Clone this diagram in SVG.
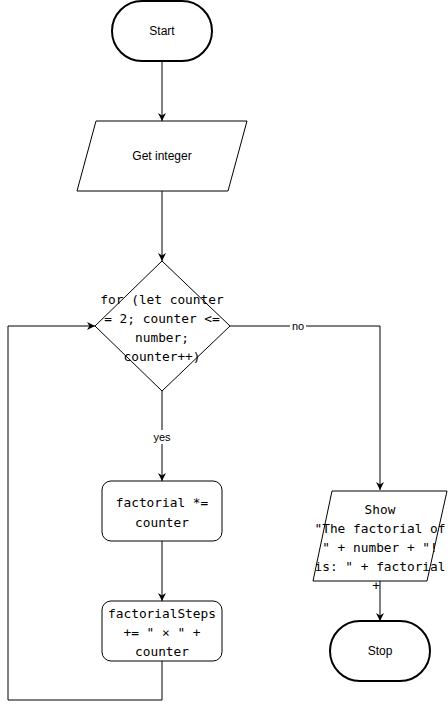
<svg xmlns="http://www.w3.org/2000/svg" width="448" height="710" viewBox="0 0 448 710">
<style>
.term{fill:#fff;stroke:#000;stroke-width:2}
.shape{fill:#fff;stroke:#000;stroke-width:1}
.sans{font-family:"Liberation Sans",Arial,sans-serif;font-size:12px;fill:#000;text-anchor:middle;dominant-baseline:central}
.mono{font-family:"DejaVu Sans Mono","Liberation Mono",monospace;font-size:12.8px;fill:#000;text-anchor:middle;dominant-baseline:central}
.edge{fill:none;stroke:#000;stroke-width:1}
.lbl{font-family:"Liberation Sans",Arial,sans-serif;font-size:11px;fill:#000;text-anchor:middle;dominant-baseline:central}
</style>
<defs>
<marker id="arr" viewBox="0 0 10 10" refX="10" refY="5" markerWidth="8" markerHeight="8" markerUnits="userSpaceOnUse" orient="auto">
<path d="M0,0 L10,5 L0,10 L3,5 Z" fill="#000"/>
</marker>
</defs>
<rect width="448" height="710" fill="#fff"/>
<g id="connectors">
<path class="edge" d="M162,61 V121" marker-end="url(#arr)"/>
<path class="edge" d="M162,191 V261" marker-end="url(#arr)"/>
<path class="edge" d="M230,326 H380 V490" marker-end="url(#arr)"/>
<rect x="290" y="319" width="16" height="14" fill="#fff"/>
<text class="lbl" x="298" y="326">no</text>
<path class="edge" d="M162,391 V481" marker-end="url(#arr)"/>
<rect x="151" y="430" width="22" height="14" fill="#fff"/>
<text class="lbl" x="162" y="437">yes</text>
<path class="edge" d="M162,541 V601" marker-end="url(#arr)"/>
<path class="edge" d="M162,661 V700 H8 V326 H95" marker-end="url(#arr)"/>
<path class="edge" d="M380,581 V621" marker-end="url(#arr)"/>
</g>
<g id="start">
<rect class="term" x="112" y="1" width="100" height="60" rx="30" ry="30"/>
<text class="sans" x="162" y="31">Start</text>
</g>
<g id="get-integer">
<polygon class="shape" points="96,121 247,121 228,191 77,191"/>
<text class="sans" x="162" y="156">Get integer</text>
</g>
<g id="for-loop">
<polygon class="shape" points="162,261 230,326 162,391 95,326"/>
<text class="mono" x="162" y="299">for (let counter</text>
<text class="mono" x="162" y="318">= 2; counter &lt;=</text>
<text class="mono" x="162" y="337">number;</text>
<text class="mono" x="162" y="356">counter++)</text>
</g>
<g id="factorial">
<rect class="shape" x="102" y="481" width="120" height="60" rx="9" ry="9"/>
<text class="mono" x="162" y="502">factorial *=</text>
<text class="mono" x="162" y="522">counter</text>
</g>
<g id="factorial-steps">
<rect class="shape" x="102" y="601" width="120" height="60" rx="9" ry="9"/>
<text class="mono" x="162" y="613">factorialSteps</text>
<text class="mono" x="162" y="632">+= " × " +</text>
<text class="mono" x="162" y="651">counter</text>
</g>
<g id="show">
<polygon class="shape" points="332,491 447,491 427,581 313,581"/>
<text class="mono" x="380" y="509">Show</text>
<text class="mono" x="380" y="528">"The factorial of</text>
<text class="mono" x="380" y="547">" + number + "!</text>
<text class="mono" x="380" y="566">is: " + factorial</text>
<text class="mono" x="376" y="585">+</text>
</g>
<g id="stop">
<rect class="term" x="330" y="621" width="100" height="60" rx="30" ry="30"/>
<text class="sans" x="380" y="651">Stop</text>
</g>
</svg>
